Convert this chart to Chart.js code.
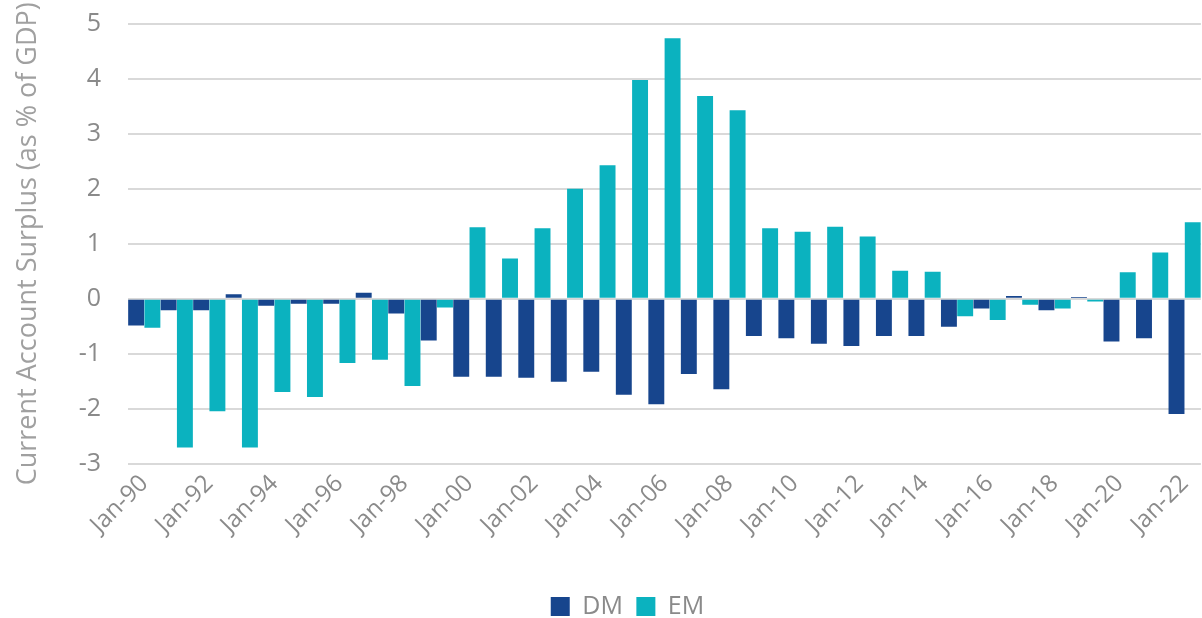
<!DOCTYPE html>
<html>
<head>
<meta charset="utf-8">
<script src="https://cdn.jsdelivr.net/npm/chart.js@4.4.1/dist/chart.umd.min.js"></script>
<style>
html,body{margin:0;padding:0;background:#fff;overflow:hidden;width:1202px;height:618px;}
#wrap{position:absolute;left:0;top:0;width:1211px;height:629px;}
</style>
</head>
<body>
<div id="wrap"><canvas id="c" width="1211" height="629"></canvas></div>
<script>
const categories = ["Jan-90","Jan-91","Jan-92","Jan-93","Jan-94","Jan-95","Jan-96","Jan-97","Jan-98","Jan-99",
  "Jan-00","Jan-01","Jan-02","Jan-03","Jan-04","Jan-05","Jan-06","Jan-07","Jan-08","Jan-09",
  "Jan-10","Jan-11","Jan-12","Jan-13","Jan-14","Jan-15","Jan-16","Jan-17","Jan-18","Jan-19",
  "Jan-20","Jan-21","Jan-22"];
const dmValues = [-0.49,-0.21,-0.21,0.08,-0.13,-0.09,-0.09,0.11,-0.27,-0.76,
  -1.42,-1.42,-1.44,-1.51,-1.33,-1.75,-1.92,-1.37,-1.65,-0.68,
  -0.72,-0.82,-0.86,-0.68,-0.68,-0.51,-0.18,0.05,-0.21,0.03,
  -0.78,-0.72,-2.10];
const emValues = [-0.53,-2.71,-2.05,-2.71,-1.70,-1.79,-1.17,-1.11,-1.59,-0.16,
  1.30,0.73,1.28,2.00,2.43,3.98,4.74,3.69,3.43,1.28,
  1.22,1.31,1.13,0.51,0.49,-0.32,-0.39,-0.11,-0.18,-0.05,
  0.48,0.84,1.39];
const yTicks = [-3,-2,-1,0,1,2,3,4,5];
const yTitle = "Current Account Surplus (as % of GDP)";

const FONT = "'Open Sans', 'Noto Sans', sans-serif";
const GREY = "#8a8a8a";

new Chart(document.getElementById('c'), {
  type: 'bar',
  data: {
    labels: categories,
    datasets: [
      {label: 'DM', data: dmValues, backgroundColor: '#17458d', borderWidth: 0},
      {label: 'EM', data: emValues, backgroundColor: '#0bb2bf', borderWidth: 0}
    ]
  },
  options: {
    responsive: false,
    animation: false,
    devicePixelRatio: 1,
    layout: {padding: {top: 24, left: 44, right: 0, bottom: 0}},
    datasets: {bar: {categoryPercentage: 1.0, barPercentage: 0.98}},
    plugins: {
      tooltip: {enabled: false},
      legend: {
        position: 'bottom',
        labels: {
          boxWidth: 19, boxHeight: 19, padding: 13.5,
          color: GREY,
          font: {family: FONT, size: 25}
        }
      }
    },
    scales: {
      x: {
        grid: {display: false, drawTicks: false},
        border: {display: false},
        ticks: {
          autoSkip: false,
          maxRotation: 45, minRotation: 45,
          padding: 6,
          color: GREY,
          font: {family: FONT, size: 24},
          callback: function(v, i) { return i % 2 === 0 ? categories[i] : ''; }
        },
        afterFit: function(s) { s.height = 117; }
      },
      y: {
        min: yTicks[0], max: yTicks[yTicks.length-1],
        afterBuildTicks: function(s) { s.ticks = yTicks.map(v => ({value: v})); },
        grid: {color: '#d9d9d9', lineWidth: 2, drawTicks: true, tickLength: 27, tickColor: 'rgba(0,0,0,0)'},
        border: {display: false},
        ticks: {
          padding: 0,
          color: GREY,
          font: {family: FONT, size: 25}
        },
        title: {
          display: true, text: yTitle, color: '#a0a0a0',
          font: {family: FONT, size: 27},
          padding: {top: -32, bottom: 0}
        },
        afterFit: function(s) { s.width = 84; }
      }
    }
  }
});
</script>
</body>
</html>
